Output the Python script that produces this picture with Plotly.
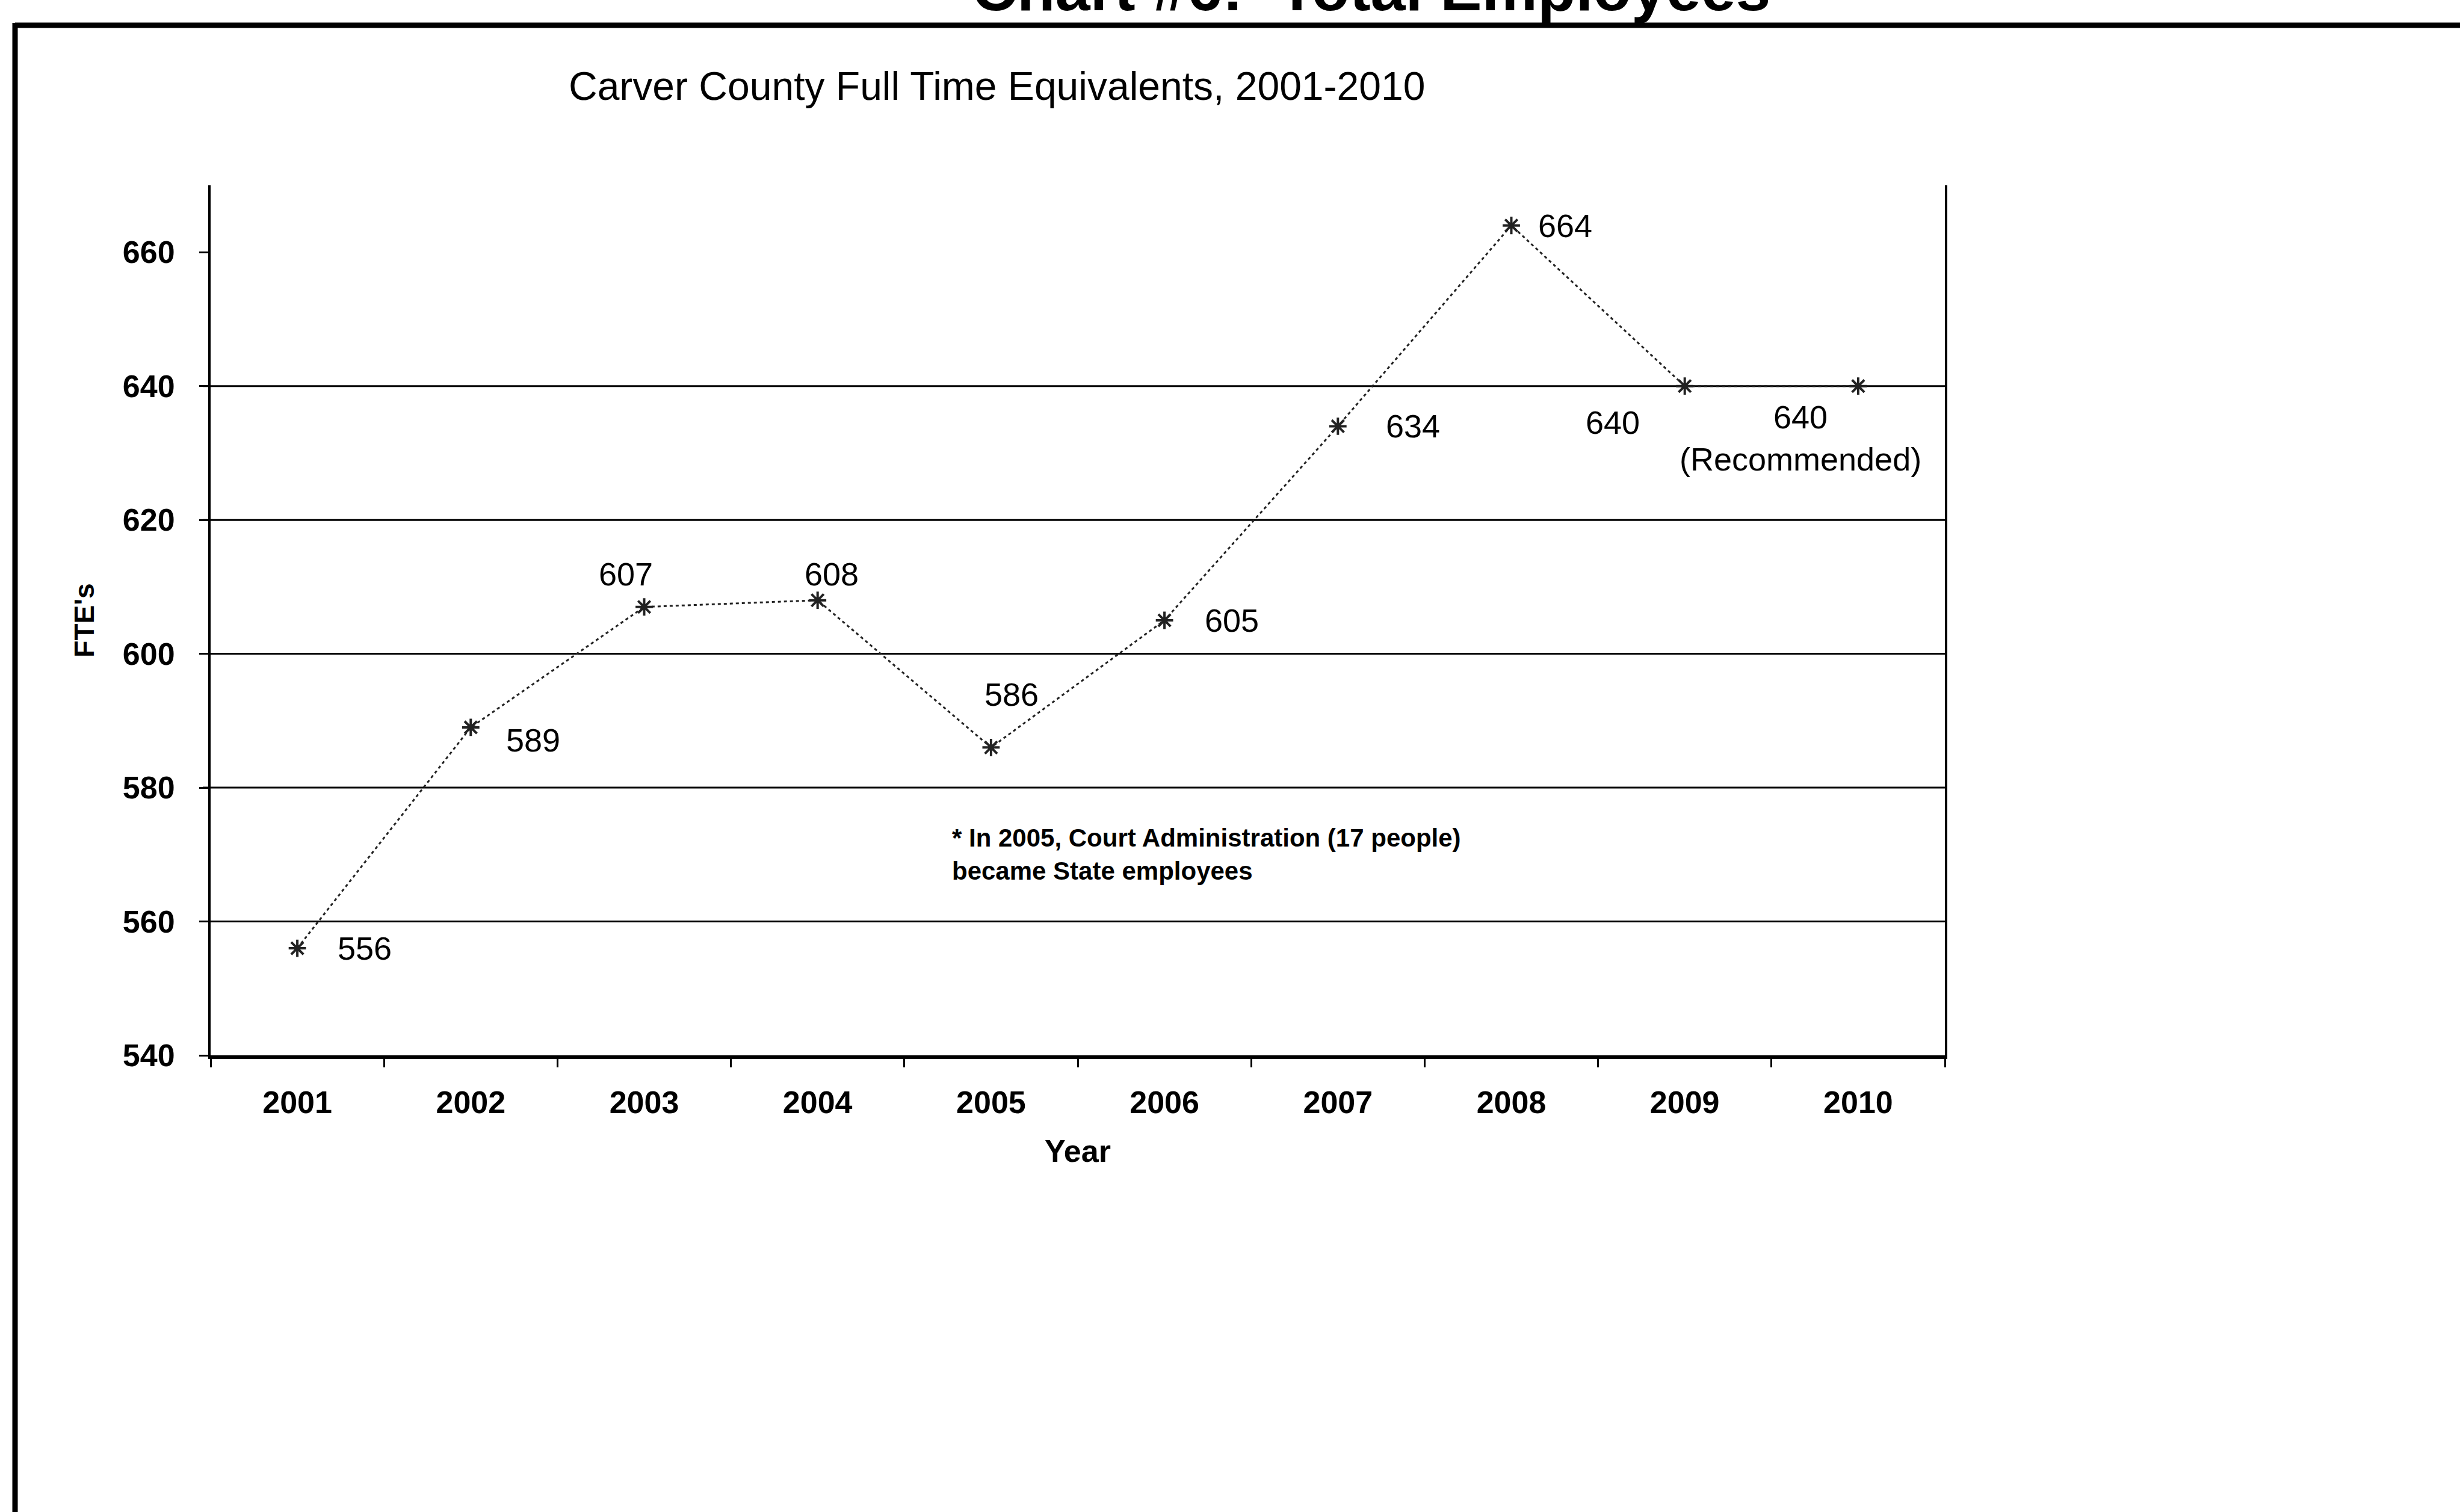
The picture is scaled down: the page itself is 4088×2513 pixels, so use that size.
import plotly.graph_objects as go

# ---- data ----
years = ["2001", "2002", "2003", "2004", "2005", "2006", "2007", "2008", "2009", "2010"]
fte = [556, 589, 607, 608, 586, 605, 634, 664, 640, 640]
label_suffix = ["", "", "", "", "", "", "", "", "", "<br>(Recommended)"]
y_ticks = [540, 560, 580, 600, 620, 640, 660]
grid_values = [560, 580, 600, 620, 640]

# ---- layout geometry (pixels) ----
W, H = 4088, 2513
L, R, T, B = 350, 856, 308, 759
PW, PH = W - L - R, H - T - B


def px(x):
    return (x - L) / PW


def py(y):
    return (H - B - y) / PH


FONT = "Liberation Sans, Arial, sans-serif"

fig = go.Figure()
fig.add_trace(go.Scatter(
    x=years, y=fte, mode="lines+markers",
    line=dict(color="#222222", width=3, dash="5px,5px"),
    marker=dict(symbol="asterisk-open", size=24, line=dict(color="#222222", width=4)),
    showlegend=False, hoverinfo="x+y",
))

# data labels (offsets in px)
offsets = [(112, 0), (104, -21), (-31, 55), (23, 44), (34, 88),
           (112, 0), (125, 0), (89, 0), (-120, -60), (-96, -86)]
annotations = []
for i, (v, suf, (dx, dy)) in enumerate(zip(fte, label_suffix, offsets)):
    annotations.append(dict(
        x=i, y=v, xref="x", yref="y", text=f"{v}{suf}", showarrow=False,
        xshift=dx, yshift=dy, font=dict(family=FONT, size=54, color="black"),
        align="center",
    ))

# cut-off page heading
annotations.append(dict(
    x=px(2278), y=py(-19), xref="paper", yref="paper", xanchor="center", yanchor="middle",
    text="<b>Chart #6:  Total Employees</b>", showarrow=False,
    font=dict(family=FONT, size=104, color="black"),
))
# chart subtitle
annotations.append(dict(
    x=px(1656), y=py(143), xref="paper", yref="paper", xanchor="center", yanchor="middle",
    text="Carver County Full Time Equivalents, 2001-2010", showarrow=False,
    font=dict(family=FONT, size=66, color="black"),
))
# footnote
annotations.append(dict(
    x=px(1580), y=py(1420), xref="paper", yref="paper", xanchor="left", yanchor="middle",
    text="<b>* In 2005, Court Administration (17 people)<br>became State employees</b>",
    showarrow=False, align="left",
    font=dict(family=FONT, size=42, color="black"),
))

shapes = []
for g in grid_values:
    shapes.append(dict(type="line", xref="paper", yref="y", x0=px(337), x1=1, y0=g, y1=g,
                       line=dict(color="black", width=3), layer="below"))
# page border
shapes.append(dict(type="line", xref="paper", yref="paper", x0=px(25), x1=px(4200),
                   y0=py(42), y1=py(42), line=dict(color="black", width=9)))
shapes.append(dict(type="line", xref="paper", yref="paper", x0=px(25), x1=px(25),
                   y0=py(38), y1=py(2600), line=dict(color="black", width=9)))

fig.update_layout(
    width=W, height=H,
    margin=dict(l=L, r=R, t=T, b=B, autoexpand=False),
    paper_bgcolor="white", plot_bgcolor="white",
    font=dict(family=FONT, color="black"),
    annotations=annotations, shapes=shapes,
    xaxis=dict(
        type="category", range=[-0.5, 9.5],
        showline=True, linecolor="black", linewidth=6,
        ticks="outside", ticklen=14, tickwidth=3, tickcolor="black", tickson="boundaries",
        showgrid=False, zeroline=False,
        tickfont=dict(family=FONT, size=52, color="black", weight="bold"),
        ticklabelstandoff=28,
        title=dict(text="Year", font=dict(family=FONT, size=52, color="black", weight="bold"),
                   standoff=36),
    ),
    yaxis=dict(
        range=[540, 670], tickvals=y_ticks,
        showline=True, mirror=True, linecolor="black", linewidth=4,
        ticks="outside", ticklen=15, tickwidth=3, tickcolor="black",
        showgrid=False, zeroline=False,
        tickfont=dict(family=FONT, size=52, color="black", weight="bold"),
        ticklabelstandoff=30,
        title=dict(text="FTE's", font=dict(family=FONT, size=46, color="black", weight="bold"),
                   standoff=34),
    ),
)

fig.write_html("out.html")
